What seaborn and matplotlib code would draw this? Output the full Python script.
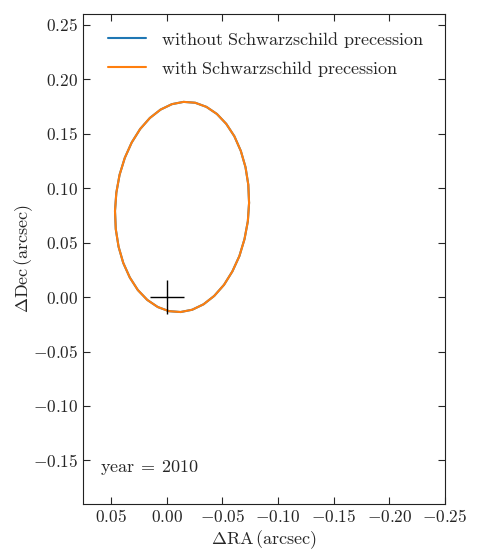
import numpy as np
import pandas as pd
import matplotlib
matplotlib.use("Agg")
import matplotlib.pyplot as plt
from matplotlib.ticker import FuncFormatter
import seaborn as sns

# S2 orbit around Sgr A*, positions (arcsec)
ra_orbit = [-0.0741, -0.0734, -0.0709, -0.0667, -0.0609, -0.0536, -0.0452,
            -0.0358, -0.0257, -0.0153, -0.0048, 0.0054, 0.0150, 0.0237,
            0.0313, 0.0375, 0.0422, 0.0451, 0.0463, 0.0456, 0.0431, 0.0389,
            0.0330, 0.0258, 0.0173, 0.0079, -0.0021, -0.0126, -0.0230,
            -0.0332, -0.0428, -0.0516, -0.0591, -0.0654, -0.0700, -0.0730,
            -0.0741]
dec_orbit = [0.0865, 0.1032, 0.1193, 0.1342, 0.1477, 0.1591, 0.1682,
             0.1747, 0.1785, 0.1793, 0.1772, 0.1722, 0.1645, 0.1544,
             0.1420, 0.1279, 0.1123, 0.0959, 0.0791, 0.0624, 0.0463, 0.0314,
             0.0180, 0.0065, -0.0026, -0.0091, -0.0129, -0.0137, -0.0116,
             -0.0066, 0.0011, 0.0113, 0.0236, 0.0377, 0.0533, 0.0697,
             0.0865]

# the two curves coincide at this scale
ra_newton = ra_orbit
dec_newton = dec_orbit
ra_schw = ra_orbit
dec_schw = dec_orbit

sgr_ra = [0.0]
sgr_dec = [0.0]

xticks = [0.05, 0.0, -0.05, -0.10, -0.15, -0.20, -0.25]
yticks = [0.25, 0.20, 0.15, 0.10, 0.05, 0.0, -0.05, -0.10, -0.15]

sns.set_style("ticks")
plt.rcParams['font.family'] = ['DejaVu Serif']
plt.rcParams['mathtext.fontset'] = 'cm'

fig = plt.figure(figsize=(4.8, 5.6), dpi=100)
ax = fig.add_axes([0.173, 0.1, 0.754, 0.875])

df_n = pd.DataFrame({'ra': ra_newton, 'dec': dec_newton})
df_s = pd.DataFrame({'ra': ra_schw, 'dec': dec_schw})
sns.lineplot(data=df_n, x='ra', y='dec', sort=False, estimator=None, ax=ax,
             color='C0', lw=1.5,
             label=r'$\mathrm{without\ Schwarzschild\ precession}$')
sns.lineplot(data=df_s, x='ra', y='dec', sort=False, estimator=None, ax=ax,
             color='C1', lw=1.5,
             label=r'$\mathrm{with\ Schwarzschild\ precession}$')
ax.plot(sgr_ra, sgr_dec, '+', color='k', ms=24, mew=1.0)

ax.set_xlim(0.075, -0.25)
ax.set_ylim(-0.19, 0.26)
ax.set_xticks(xticks)
ax.set_yticks(yticks)
fmt = FuncFormatter(lambda v, p: r'$%.2f$' % v)
ax.xaxis.set_major_formatter(fmt)
ax.yaxis.set_major_formatter(fmt)
ax.tick_params(direction='in', top=True, right=True, length=5, width=0.8,
               labelsize=12.5)
for s in ax.spines.values():
    s.set_linewidth(0.8)
    s.set_color('#222222')

ax.set_xlabel(r'$\Delta\mathrm{RA}\,(\mathrm{arcsec})$', fontsize=13, labelpad=2)
ax.set_ylabel(r'$\Delta\mathrm{Dec}\,(\mathrm{arcsec})$', fontsize=13, labelpad=-2)

ax.text(0.048, 0.065, r'$\mathrm{year}\:=\:2010$', transform=ax.transAxes,
        fontsize=13)

ax.legend(loc='upper left', bbox_to_anchor=(0.02, 1.005), frameon=False,
          fontsize=13, handlelength=2.1, borderaxespad=0.6)

fig.savefig('out.png', dpi=100)
